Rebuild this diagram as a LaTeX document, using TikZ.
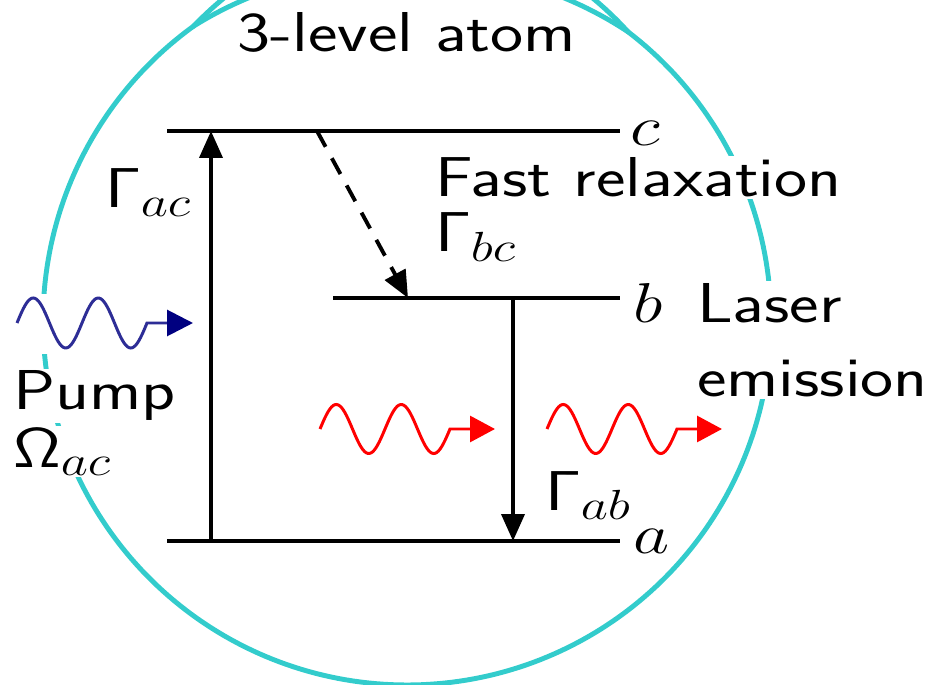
\RequirePackage{fix-cm}
\documentclass[tikz,border=0pt]{standalone}
\usetikzlibrary{arrows.meta}
\definecolor{ringcyan}{RGB}{51,204,204}
\definecolor{pumpline}{RGB}{45,45,150}
\definecolor{pumpnavy}{RGB}{0,0,128}
\definecolor{laserred}{RGB}{255,0,0}
\DeclareMathSizes{32}{32}{24}{18}
\newcommand{\hsx}[1]{\scalebox{1.25}[1]{#1}}
\begin{document}
\begin{tikzpicture}[x=0.02cm,y=-0.02cm,
  lvl/.style={line width=2.4pt, black},
  trans/.style={line width=2.2pt, black, -{Triangle[length=0.54cm,width=0.46cm]}},
  lbl/.style={inner sep=1pt, font=\fontsize{32}{42.5}\selectfont\sffamily},
  wbox/.style={lbl, fill=white},
  ring/.style={ringcyan, line width=2.8pt, line cap=round, line join=round},
  wave/.style={line width=1.7pt},
  redtip/.style={-{Triangle[length=0.5cm,width=0.52cm]}},
]
\useasboundingbox (0,0) rectangle (929,685);
\begin{scope}
\clip (0,0) rectangle (929,685);
\draw[ring] plot[domain=234.1:-52.6, samples=240] ({407+364*cos(\x)},{321+364*sin(\x)});
\draw[ring] plot[domain=234.1:307.4, samples=60]
  ({407+(364+27*sin(2.4557*(\x-234.1)))*cos(\x)},{321+(364+27*sin(2.4557*(\x-234.1)))*sin(\x)});
\draw[ring] plot[domain=234.1:307.4, samples=60]
  ({407+(364-10*sin(2.4557*(\x-234.1)))*cos(\x)},{321+(364-10*sin(2.4557*(\x-234.1)))*sin(\x)});
\end{scope}

% energy levels
\coordinate (cL) at (167,131); \coordinate (cR) at (620,131);
\coordinate (bL) at (333,298); \coordinate (bR) at (620,298);
\coordinate (aL) at (167,541); \coordinate (aR) at (620,541);
\draw[lvl] (cL) -- (cR);
\draw[lvl] (bL) -- (bR);
\draw[lvl] (aL) -- (aR);

% transitions
\coordinate (pumpBot) at (211,541); \coordinate (pumpTop) at (211,131);
\draw[trans] (pumpBot) -- (pumpTop);
\coordinate (relaxA) at (317,131); \coordinate (relaxB) at (408,298);
\draw[trans, dash pattern=on 0.36cm off 0.26cm] (relaxA) -- (relaxB);
\coordinate (lasTop) at (513,298); \coordinate (lasBot) at (513,541);
\draw[trans] (lasTop) -- (lasBot);

% waves
\fill[white] (8,294) rectangle (200,354);
\coordinate (pumpTip) at (193,323);
\draw[pumpline, wave, -{Triangle[length=0.52cm,width=0.52cm,color=pumpnavy]}]
  plot[domain=0:130,samples=80] ({17+\x},{323-25*sin(5.5385*\x)}) -- (pumpTip);
\coordinate (redTipA) at (495,429);
\draw[laserred, wave, redtip]
  plot[domain=0:130,samples=80] ({320+\x},{429-24.5*sin(5.5385*\x)}) -- (redTipA);
\coordinate (redTipB) at (722,429);
\draw[laserred, wave, redtip]
  plot[domain=0:130,samples=80] ({547+\x},{429-24.5*sin(5.5385*\x)}) -- (redTipB);

% labels
\node[lbl, anchor=base] (title) at (407,52) {\hsx{3-level atom}};
\node[wbox, anchor=base west] (fast) at (433,197) {\hsx{Fast relaxation}};
\node[lbl, anchor=base west] (gbc) at (433,252) {\hsx{$\mathsf{\Gamma}_{bc}$}};
\node[wbox, anchor=north west, align=left] (laser) at (695,281) {\hsx{Laser}\\\hsx{emission}};
\node[wbox, anchor=base west] (pump) at (11,410) {\hsx{Pump}};
\node[wbox, anchor=base west] (omega) at (11,467) {\hsx{$\mathsf{\Omega}_{ac}$}};
\node[lbl, anchor=base west] (gac) at (103,208) {\hsx{$\mathsf{\Gamma}_{ac}$}};
\node[lbl, anchor=base west] (gab) at (543,510) {\hsx{$\mathsf{\Gamma}_{ab}$}};
\node[lbl, inner sep=0pt, anchor=base west] (lc) at (630,146) {\hsx{$c$}};
\node[lbl, anchor=base west] (lb) at (631,323) {\hsx{$b$}};
\node[lbl, anchor=base west] (la) at (631,553) {\hsx{$a$}};
\end{tikzpicture}
\end{document}
